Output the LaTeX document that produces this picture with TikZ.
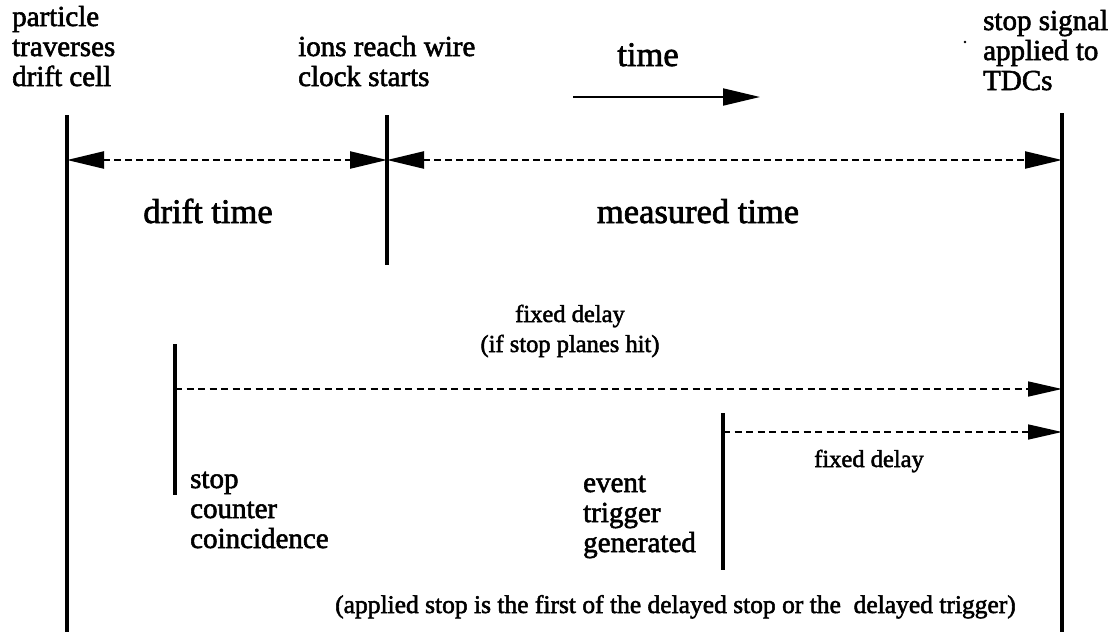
\documentclass[tikz,border=0pt]{standalone}
\usepackage{fontspec}
\setmainfont{Liberation Serif}[FakeBold=2]
\usetikzlibrary{arrows.meta}
\begin{document}
\begin{tikzpicture}[x=1pt,y=-1pt,
  lab/.style={inner sep=0pt,align=left,font=\fontsize{29}{30}\selectfont},
  big/.style={inner sep=0pt,font=\fontsize{34.5}{36}\selectfont},
  small/.style={inner sep=0pt,font=\fontsize{24.5}{26}\selectfont},
  vline/.style={line width=3.6pt},
  topdash/.style={line width=2.3pt,dash pattern=on 7pt off 4pt},
  lowdash/.style={line width=1.6pt,dash pattern=on 7pt off 4.5pt},
  bighead/.style={-{Triangle[length=37pt,width=17pt]}},
  bigboth/.style={{Triangle[length=37pt,width=17pt]}-{Triangle[length=37pt,width=17pt]}},
  lowhead/.style={-{Triangle[length=34pt,width=15pt]}},
]
\useasboundingbox (0,0) rectangle (1117,632);

% labels (base anchor = baseline of the last line)
\node[lab,anchor=base west] (ptext) at (12,86) {particle\\traverses\\drift cell};
\node[lab,anchor=base west] (itext) at (298,86) {ions reach wire\\clock starts};
\node[lab,anchor=base west] (stext) at (983,90) {stop signal\\applied to\\TDCs};
\node[big,anchor=base] (time) at (648,66) {time};
\node[big,anchor=base] (drift) at (208,223) {drift time};
\node[big,anchor=base] (meas) at (698,223) {measured time};
\node[small,anchor=base] (fd1) at (570,322) {fixed delay};
\node[small,anchor=base] (ifstop) at (570,352) {(if stop planes hit)};
\node[lab,anchor=base west] (stopc) at (190,548) {stop\\counter\\coincidence};
\node[lab,anchor=base west] (event) at (583,552) {event\\trigger\\generated};
\node[small,anchor=base] (fd2) at (869,467) {fixed delay};
\node[small,anchor=base west,font=\fontsize{25.5}{27}\selectfont] (note) at (335,613) {(applied stop is the first of the delayed stop or the \ delayed trigger)};

% coordinates
\coordinate (Ltop) at (67,115);
\coordinate (Lbot) at (67,632);
\coordinate (Mtop) at (387,115);
\coordinate (Mbot) at (387,265);
\coordinate (Rtop) at (1062,113);
\coordinate (Rbot) at (1062,632);
\coordinate (Stop) at (175,344);
\coordinate (Sbot) at (175,495);
\coordinate (Etop) at (723,413);
\coordinate (Ebot) at (723,570);
\coordinate (dL) at (67,160);
\coordinate (dM) at (387,160);
\coordinate (dR) at (1062,160);
\coordinate (s1) at (175,389);
\coordinate (r1) at (1062,389);
\coordinate (e1) at (723,432);
\coordinate (r2) at (1062,432);
\coordinate (tA) at (573,97);
\coordinate (tB) at (760,97);

% vertical lines
\draw[vline] (Ltop) -- (Lbot);
\draw[vline] (Mtop) -- (Mbot);
\draw[vline] (Rtop) -- (Rbot);
\draw[vline] (Stop) -- (Sbot);
\draw[vline] (Etop) -- (Ebot);

% dashed arrows
\draw[topdash,bigboth] (dL) -- (dM);
\draw[topdash,bigboth] (dM) -- (dR);
\draw[lowdash,lowhead] (s1) -- (r1);
\draw[lowdash,lowhead] (e1) -- (r2);

% time arrow
\draw[line width=2pt,bighead] (tA) -- (tB);

% small dot
\fill (965,42) circle (1.3pt);
\end{tikzpicture}
\end{document}
